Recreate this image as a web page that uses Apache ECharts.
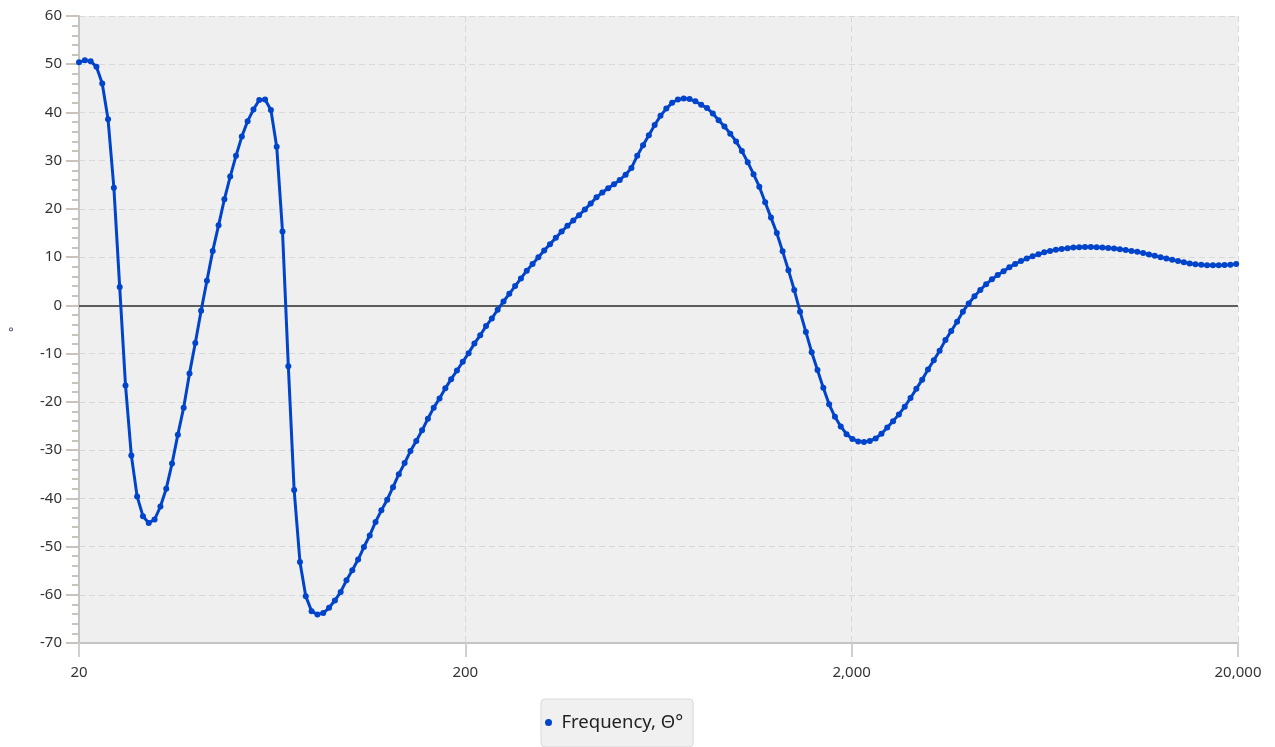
<!DOCTYPE html>
<html>
<head>
<meta charset="utf-8">
<script src="https://cdn.jsdelivr.net/npm/echarts@6/dist/echarts.min.js"></script>
<style>
html,body{margin:0;padding:0;background:#fff;}
#chart{width:1275px;height:747px;}
</style>
</head>
<body>
<div id="chart"></div>
<script>
// Frequencies (Hz), 1/20-octave grid
const freq = [
20,20.71,21.44,22.19,22.97,23.78,24.62,25.49,26.39,27.32,28.28,29.28,30.31,31.38,32.49,33.64,34.82,36.05,37.32,38.64,
40,41.41,42.87,44.38,45.95,47.57,49.25,50.98,52.78,54.64,56.57,58.56,60.63,62.77,64.98,67.27,69.64,72.10,74.64,77.27,
80,82.82,85.74,88.77,91.90,95.14,98.49,101.96,105.56,109.28,113.14,117.13,121.26,125.53,129.96,134.54,139.29,144.20,149.29,154.55,
160,165.64,171.48,177.53,183.79,190.27,196.98,203.93,211.12,218.57,226.27,234.25,242.52,251.07,259.92,269.09,278.58,288.40,298.57,309.10,
320,331.28,342.97,355.06,367.58,380.55,393.96,407.86,422.24,437.13,452.55,468.51,485.03,502.13,519.84,538.17,557.15,576.80,597.14,618.20,
640,662.56,685.93,710.12,735.17,761.09,787.93,815.72,844.49,874.27,905.10,937.02,970.06,1004.27,1039.68,1076.35,1114.30,1153.60,1194.28,1236.40,
1280,1325.1,1371.9,1420.2,1470.4,1522.2,1575.9,1631.4,1689.0,1748.5,1810.2,1874.0,1940.1,2008.5,2079.4,2152.7,2228.6,2307.2,2388.6,2472.8,
2560,2650.3,2743.7,2840.5,2940.7,3044.4,3151.7,3262.9,3378.0,3497.1,3620.4,3748.1,3880.2,4017.1,4158.7,4305.4,4457.2,4614.4,4777.1,4945.6,
5120,5300.7,5487.4,5681.0,5881.4,6088.8,6303.4,6525.7,6755.9,6994.1,7240.8,7496.2,7760.5,8034.2,8317.5,8610.8,8914.4,9228.9,9554.3,9891.2,
10240,10601,10975,11362,11763,12177,12607,13051,13512,13988,14482,14992,15521,16068,16635,17222,17829,18458,19109,19782
];
// Phase (degrees)
const phase = [
50.4,50.8,50.6,49.5,46.0,38.6,24.4,3.8,-16.6,-31.1,
-39.6,-43.7,-45.1,-44.4,-41.7,-38.0,-32.8,-26.8,-21.2,-14.1,
-7.8,-1.1,5.1,11.3,16.6,22.0,26.7,31.0,35.0,38.2,
40.6,42.6,42.7,40.5,32.9,15.3,-12.6,-38.3,-53.2,-60.3,
-63.4,-64.1,-63.8,-62.7,-61.2,-59.4,-57.0,-54.9,-52.7,-50.1,
-47.7,-44.9,-42.5,-40.3,-37.7,-35.0,-32.7,-30.2,-28.1,-25.9,
-23.5,-21.2,-19.3,-17.2,-15.3,-13.5,-11.7,-9.9,-7.9,-6.2,
-4.3,-2.7,-0.9,0.8,2.4,4.0,5.6,7.2,8.6,10.0,
11.4,12.7,14.0,15.3,16.5,17.6,18.7,19.9,21.1,22.4,
23.4,24.3,25.1,26.0,27.1,28.5,31.0,33.2,35.3,37.4,
39.3,40.8,42.0,42.7,42.9,42.8,42.3,41.6,40.9,39.8,
38.4,37.1,35.6,34.0,32.0,29.7,27.2,24.6,21.4,18.2,
15.0,11.2,7.3,3.2,-1.3,-5.5,-9.7,-13.4,-17.1,-20.5,
-23.1,-25.1,-26.7,-27.7,-28.2,-28.3,-28.1,-27.6,-26.6,-25.3,
-24.0,-22.6,-21.0,-19.2,-17.3,-15.4,-13.3,-11.4,-9.4,-7.2,
-5.3,-3.4,-1.3,0.4,1.9,3.2,4.4,5.4,6.3,7.1,
7.9,8.6,9.2,9.7,10.2,10.6,11.0,11.3,11.55,11.7,
11.85,12.0,12.05,12.1,12.1,12.05,12.0,11.9,11.8,11.65,
11.5,11.3,11.1,10.85,10.55,10.3,10.0,9.7,9.45,9.2,
8.95,8.7,8.55,8.4,8.3,8.3,8.3,8.35,8.45,8.6
];
const xTickLabels = ['20','200','2,000','20,000'];
const seriesName = 'Frequency, \u0398\u00b0';
const yName = '\u00b0';

const FONT = 'Noto Sans';
const F0 = 20;
const points = freq.map((f, i) => [Math.log10(f / F0), phase[i]]);

const chart = echarts.init(document.getElementById('chart'), null, {renderer: 'canvas'});
chart.setOption({
  animation: false,
  backgroundColor: '#ffffff',
  textStyle: {fontFamily: FONT},
  grid: {
    left: 79, right: 37, top: 16, bottom: 104,
    containLabel: false, outerBoundsMode: 'none',
    show: true, backgroundColor: '#efefef', borderWidth: 0
  },
  legend: {
    left: 541, top: 699,
    padding: [14, 10, 15, 4],
    backgroundColor: '#f0f0f0',
    borderColor: '#d9d9d9', borderWidth: 1, borderRadius: 4,
    itemWidth: 16, itemHeight: 7,
    icon: 'circle',
    textStyle: {fontFamily: FONT, fontSize: 18.5, color: '#222'},
    data: [seriesName]
  },
  xAxis: {
    type: 'value', min: 0, max: 3, interval: 1,
    axisLine: {show: true, onZero: false, lineStyle: {color: '#c4c4c4', width: 2}},
    axisTick: {show: true, length: 14, lineStyle: {color: '#d0d0d0', width: 2}},
    axisLabel: {
      margin: 22, fontSize: 15, color: '#333', fontFamily: FONT,
      formatter: function (v) { return xTickLabels[Math.round(v)]; }
    },
    splitLine: {show: true, lineStyle: {color: '#d8d8d8', type: [6, 4], width: 1}}
  },
  yAxis: {
    type: 'value', min: -70, max: 60, interval: 10,
    name: yName, nameLocation: 'middle', nameGap: 58, nameRotate: 90,
    nameTextStyle: {color: '#22226a', fontSize: 12, fontFamily: FONT},
    axisLine: {show: true, lineStyle: {color: '#c4c4c4', width: 2}},
    axisTick: {show: true, length: 13, lineStyle: {color: '#c9c3bc', width: 2}},
    minorTick: {show: true, splitNumber: 5, length: 7, lineStyle: {color: '#c9c3bc', width: 2}},
    axisLabel: {margin: 17, fontSize: 15, color: '#333', fontFamily: FONT},
    splitLine: {show: true, lineStyle: {color: '#d8d8d8', type: [6, 4], width: 1}}
  },
  series: [{
    name: seriesName,
    type: 'line',
    data: points,
    smooth: false,
    symbol: 'circle',
    symbolSize: 6,
    showSymbol: true,
    color: '#0044cc',
    lineStyle: {color: '#0044cc', width: 3},
    itemStyle: {color: '#0044cc'},
    z: 5,
    markLine: {
      silent: true,
      symbol: ['none', 'none'],
      label: {show: false},
      lineStyle: {color: '#5c5c5c', width: 2, type: 'solid'},
      data: [{yAxis: 0}],
      z: 3
    }
  }]
});
</script>
</body>
</html>
